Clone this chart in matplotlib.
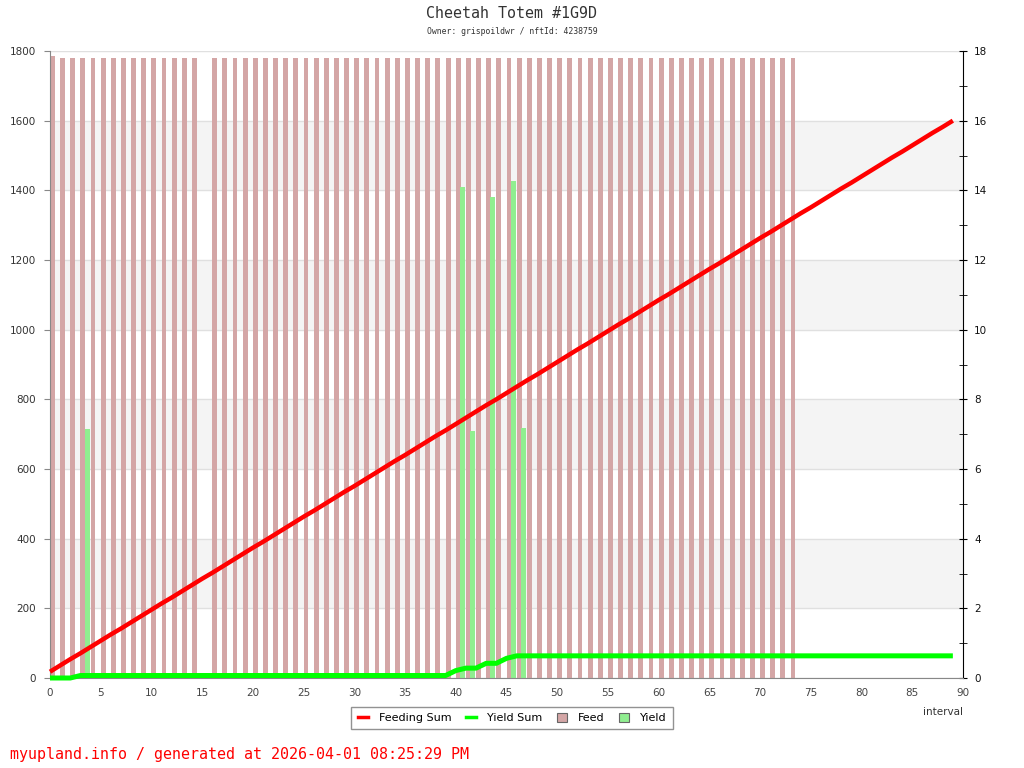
import matplotlib
matplotlib.use("Agg")
import matplotlib.pyplot as plt
from matplotlib.lines import Line2D
from matplotlib.patches import Patch
from matplotlib.ticker import MultipleLocator

# ---------------- data ----------------
intervals = list(range(90))

feeding_sum = [
    18, 36, 54, 71, 89, 107, 125, 142, 160, 178,
    196, 214, 231, 249, 267, 285, 302, 320, 338, 356,
    374, 391, 409, 427, 445, 463, 480, 498, 516, 534,
    551, 569, 587, 605, 623, 640, 658, 676, 694, 711,
    729, 747, 765, 783, 800, 818, 836, 854, 871, 889,
    907, 925, 943, 960, 978, 996, 1014, 1031, 1049, 1067,
    1085, 1102, 1120, 1138, 1156, 1174, 1191, 1209, 1227, 1245,
    1263, 1280, 1298, 1316, 1334, 1351, 1369, 1387, 1405, 1422,
    1440, 1458, 1476, 1494, 1511, 1529, 1547, 1565, 1582, 1600,
]

yield_sum = [
    0, 0, 0, 7.15, 7.15, 7.15, 7.15, 7.15, 7.15, 7.15,
    7.15, 7.15, 7.15, 7.15, 7.15, 7.15, 7.15, 7.15, 7.15, 7.15,
    7.15, 7.15, 7.15, 7.15, 7.15, 7.15, 7.15, 7.15, 7.15, 7.15,
    7.15, 7.15, 7.15, 7.15, 7.15, 7.15, 7.15, 7.15, 7.15, 7.15,
    21.25, 28.35, 28.35, 42.15, 42.15, 56.43, 63.61, 63.61, 63.61, 63.61,
    63.61, 63.61, 63.61, 63.61, 63.61, 63.61, 63.61, 63.61, 63.61, 63.61,
    63.61, 63.61, 63.61, 63.61, 63.61, 63.61, 63.61, 63.61, 63.61, 63.61,
    63.61, 63.61, 63.61, 63.61, 63.61, 63.61, 63.61, 63.61, 63.61, 63.61,
    63.61, 63.61, 63.61, 63.61, 63.61, 63.61, 63.61, 63.61, 63.61, 63.61,
]

feed_x = list(range(74))
feed_values = [
    17.85, 17.8, 17.8, 17.8, 17.8, 17.8, 17.8, 17.8, 17.8, 17.8,
    17.8, 17.8, 17.8, 17.8, 17.8, 0, 17.8, 17.8, 17.8, 17.8,
    17.8, 17.8, 17.8, 17.8, 17.8, 17.8, 17.8, 17.8, 17.8, 17.8,
    17.8, 17.8, 17.8, 17.8, 17.8, 17.8, 17.8, 17.8, 17.8, 17.8,
    17.8, 17.8, 17.8, 17.8, 17.8, 17.8, 17.8, 17.8, 17.8, 17.8,
    17.8, 17.8, 17.8, 17.8, 17.8, 17.8, 17.8, 17.8, 17.8, 17.8,
    17.8, 17.8, 17.8, 17.8, 17.8, 17.8, 17.8, 17.8, 17.8, 17.8,
    17.8, 17.8, 17.8, 17.8,
]

yield_x = [3, 40, 41, 43, 45, 46]
yield_values = [7.15, 14.1, 7.1, 13.8, 14.28, 7.18]

left_ticks = [0, 200, 400, 600, 800, 1000, 1200, 1400, 1600, 1800]
right_ticks = [0, 2, 4, 6, 8, 10, 12, 14, 16, 18]
x_ticks = [0, 5, 10, 15, 20, 25, 30, 35, 40, 45, 50, 55, 60, 65, 70, 75, 80, 85, 90]

title = "Cheetah Totem #1G9D"
subtitle = "Owner: grispoildwr / nftId: 4238759"
footer = "myupland.info / generated at 2026-04-01 08:25:29 PM"

# ---------------- colors ----------------
FEED_C = "#d4a6a6"
YIELD_C = "#90ee90"
RED = "#ff0000"
GREEN = "#00ff00"
BAND = "#f4f4f4"
GRID = "#e0e0e0"

fig = plt.figure(figsize=(10.24, 7.68), dpi=100)
ax = fig.add_axes([50 / 1024, 1 - 678 / 768, 913 / 1024, 627 / 768])
ax2 = ax.twinx()

# ax2 (bars + bands) behind ax (lines)
ax.set_zorder(ax2.get_zorder() + 1)
ax.patch.set_visible(False)

ax2.set_ylim(0, 18)
ax.set_ylim(0, 1800)
ax.set_xlim(0, 90)

# bands and grid on ax2
for lo in [2, 6, 10, 14]:
    ax2.axhspan(lo, lo + 2, color=BAND, zorder=0, lw=0)
for t in right_ticks:
    ax2.axhline(t, color=GRID, lw=1, zorder=0.5)

ax2.bar([x + 0.0 for x in feed_x], feed_values, width=0.48, align="edge",
        color=FEED_C, zorder=2, linewidth=0)
ax2.bar([x + 0.42 for x in yield_x], yield_values, width=0.48, align="edge",
        color=YIELD_C, zorder=3, linewidth=0)

ax.plot(intervals, feeding_sum, color=RED, lw=3.2, zorder=5,
        solid_capstyle="butt", clip_on=False)
ax.plot(intervals, yield_sum, color=GREEN, lw=3.6, zorder=4,
        solid_capstyle="butt", clip_on=False)

# axes styling
ax.set_xticks(x_ticks)
ax.set_yticks(left_ticks)
ax2.set_yticks(right_ticks)
ax2.yaxis.set_minor_locator(MultipleLocator(1))

for s in ["top"]:
    ax.spines[s].set_visible(False)
    ax2.spines[s].set_visible(False)
ax.spines["right"].set_visible(False)
ax.spines["left"].set_color("#888888")
ax.spines["bottom"].set_color("#888888")
ax2.spines["left"].set_visible(False)
ax2.spines["bottom"].set_visible(False)
ax2.spines["right"].set_color("black")

ax.tick_params(axis="x", length=0, labelsize=7.5, labelcolor="#444444", pad=7)
ax.tick_params(axis="y", length=4, color="#888888", labelsize=7.5,
               labelcolor="#333333", pad=6)
ax2.tick_params(axis="y", which="major", direction="inout", length=6,
                color="black", labelsize=7.5, labelcolor="#111111", pad=5)
ax2.tick_params(axis="y", which="minor", direction="inout", length=6,
                color="black")

ax.text(1.0, -0.055, "interval", transform=ax.transAxes, ha="right", va="center",
        fontsize=7.5, color="#333333")

# titles
fig.text(0.5, 1 - 14 / 768, title, ha="center", va="center",
         family="DejaVu Sans Mono", fontsize=10.8, color="#333333")
fig.text(0.5, 1 - 31 / 768, subtitle, ha="center", va="center",
         family="DejaVu Sans Mono", fontsize=5.9, color="#333333")
fig.text(10 / 1024, 1 - 754 / 768, footer, ha="left", va="center",
         family="DejaVu Sans Mono", fontsize=10.8, color="#ff0000")

# legend
handles = [
    Line2D([], [], color=RED, lw=2.5),
    Line2D([], [], color=GREEN, lw=2.5),
    Patch(facecolor=FEED_C, edgecolor="#666666", linewidth=0.8),
    Patch(facecolor=YIELD_C, edgecolor="#666666", linewidth=0.8),
]
labels = ["Feeding Sum", "Yield Sum", "Feed", "Yield"]
leg = fig.legend(handles, labels, loc="center", bbox_to_anchor=(512 / 1024, 1 - 718 / 768),
                 ncol=4, fontsize=8, frameon=True, fancybox=False,
                 handlelength=0.9, handleheight=0.9, handletextpad=1.0,
                 columnspacing=1.3, borderpad=0.55)
leg.get_frame().set_edgecolor("#777777")
leg.get_frame().set_linewidth(1.0)

fig.savefig("out.png", dpi=100)
